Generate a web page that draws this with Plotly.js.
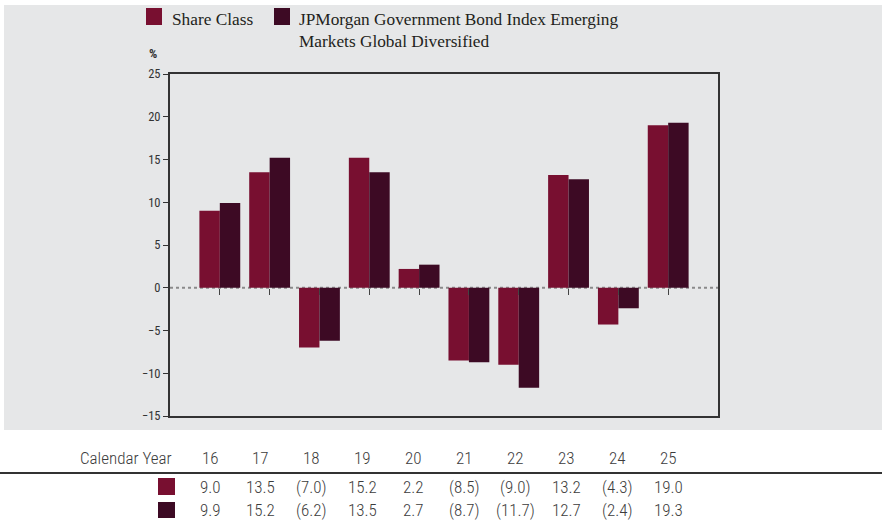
<!DOCTYPE html>
<html>
<head>
<meta charset="utf-8">
<script src="https://cdn.plot.ly/plotly-3.0.1.min.js"></script>
<style>
  html, body { margin: 0; padding: 0; background: #ffffff; }
  #chart { width: 882px; height: 521px; }
</style>
</head>
<body>
<div id="chart"></div>
<script>
// ---- data ----
const years = ["16", "17", "18", "19", "20", "21", "22", "23", "24", "25"];
const shareClass = [9.0, 13.5, -7.0, 15.2, 2.2, -8.5, -9.0, 13.2, -4.3, 19.0];
const benchmark = [9.9, 15.2, -6.2, 13.5, 2.7, -8.7, -11.7, 12.7, -2.4, 19.3];
const seriesNames = ["Share Class", "JPMorgan Government Bond Index Emerging<br>Markets Global Diversified"];
const rowLabel = "Calendar Year";
const yTicks = [-15, -10, -5, 0, 5, 10, 15, 20, 25];

// ---- styles / layout helpers ----
const C1 = "#780f30", C2 = "#3d0a24", PANEL = "#e6e7e8", INK = "#333333", TXT = "#3c3c3c";
const W = 882, H = 521, L = 170, R = 718, T = 74, B = 416;
const px = v => (v - L) / (R - L);
const py = v => (B - v) / (B - T);
const narrow = "'Liberation Sans Narrow', 'Roboto Condensed', Roboto, Arial, sans-serif";
const serif = "'Liberation Serif', 'Times New Roman', serif";
const idx = years.map((_, i) => i);
const fmt = v => v < 0 ? "(" + Math.abs(v).toFixed(1) + ")" : v.toFixed(1);

const traces = [
  { type: "bar", x: idx, y: shareClass, name: "Share Class", marker: { color: C1 }, hoverinfo: "y" },
  { type: "bar", x: idx, y: benchmark, name: "Benchmark", marker: { color: C2 }, hoverinfo: "y" },
  { type: "scatter", x: idx, y: idx.map(() => null), xaxis: "x2", yaxis: "y", mode: "markers", showlegend: false, hoverinfo: "skip" }
];

const shapes = [
  // grey panel
  { type: "rect", xref: "paper", yref: "paper", x0: px(4), x1: px(882), y0: py(430), y1: py(5),
    fillcolor: PANEL, line: { width: 0 }, layer: "below" },
  // zero line (dotted)
  { type: "line", xref: "paper", yref: "y", x0: 0, x1: 1, y0: 0, y1: 0,
    line: { color: "#8a8a8a", width: 2, dash: "dot" }, layer: "below" },
  // table rule
  { type: "line", xref: "paper", yref: "paper", x0: px(0), x1: px(882), y0: py(473), y1: py(473),
    line: { color: INK, width: 2 } },
  // legend squares
  { type: "rect", xref: "paper", yref: "paper", x0: px(146), x1: px(162), y0: py(25), y1: py(8),
    fillcolor: C1, line: { width: 0 } },
  { type: "rect", xref: "paper", yref: "paper", x0: px(274), x1: px(290), y0: py(25), y1: py(8),
    fillcolor: C2, line: { width: 0 } },
  // table key squares
  { type: "rect", xref: "paper", yref: "paper", x0: px(158), x1: px(175), y0: py(495), y1: py(478),
    fillcolor: C1, line: { width: 0 } },
  { type: "rect", xref: "paper", yref: "paper", x0: px(158), x1: px(175), y0: py(518), y1: py(502),
    fillcolor: C2, line: { width: 0 } }
];

const annotations = [
  { xref: "paper", yref: "paper", x: px(170), y: py(19), xanchor: "left", yanchor: "middle", showarrow: false,
    text: seriesNames[0], font: { family: serif, size: 17.3, color: "#231f20" } },
  { xref: "paper", yref: "paper", x: px(297), y: py(8), xanchor: "left", yanchor: "top", showarrow: false, align: "left",
    text: seriesNames[1], font: { family: serif, size: 17.3, color: "#231f20" } },
  { xref: "paper", yref: "paper", x: px(153), y: py(53), xanchor: "center", yanchor: "middle", showarrow: false,
    text: "<b>%</b>", font: { family: narrow, size: 13, color: INK } },
  { xref: "paper", yref: "paper", x: px(174), y: py(458), xanchor: "right", yanchor: "middle", showarrow: false,
    text: rowLabel, font: { family: narrow, size: 17, color: TXT, weight: 300 } }
];
const colX = i => 210 + i * 50.9;
years.forEach((yr, i) => {
  annotations.push({ xref: "paper", yref: "paper", x: px(colX(i)), y: py(458), xanchor: "center", yanchor: "middle",
    showarrow: false, text: yr, font: { family: narrow, size: 17, color: TXT, weight: 300 } });
  annotations.push({ xref: "paper", yref: "paper", x: px(colX(i)), y: py(487), xanchor: "center", yanchor: "middle",
    showarrow: false, text: fmt(shareClass[i]), font: { family: narrow, size: 17, color: TXT, weight: 300 } });
  annotations.push({ xref: "paper", yref: "paper", x: px(colX(i)), y: py(510), xanchor: "center", yanchor: "middle",
    showarrow: false, text: fmt(benchmark[i]), font: { family: narrow, size: 17, color: TXT, weight: 300 } });
});

const layout = {
  width: W, height: H,
  margin: { l: L, r: W - R, t: T, b: H - B, pad: 0 },
  paper_bgcolor: "#ffffff",
  plot_bgcolor: "rgba(0,0,0,0)",
  showlegend: false,
  barmode: "group",
  bargap: 0.18,
  bargroupgap: 0,
  xaxis: { range: [-1, 10], showgrid: false, zeroline: false, showticklabels: false, ticks: "",
           showline: true, linecolor: INK, linewidth: 2, mirror: true, fixedrange: true },
  xaxis2: { overlaying: "x", anchor: "free", position: 0.375, range: [-1, 10], tickvals: idx,
            ticks: "outside", ticklen: 6, tickwidth: 1, tickcolor: "#444", showticklabels: false,
            showline: false, showgrid: false, zeroline: false, fixedrange: true },
  yaxis: { range: [-15, 25], tickvals: yTicks, ticks: "outside", ticklen: 5, tickcolor: INK, tickwidth: 1,
           showgrid: false, zeroline: false, showline: true, linecolor: INK, linewidth: 2, mirror: true,
           tickfont: { family: narrow, size: 12.5, color: INK }, fixedrange: true },
  shapes: shapes,
  annotations: annotations
};

Plotly.newPlot("chart", traces, layout, { displayModeBar: false, staticPlot: true });
</script>
</body>
</html>
